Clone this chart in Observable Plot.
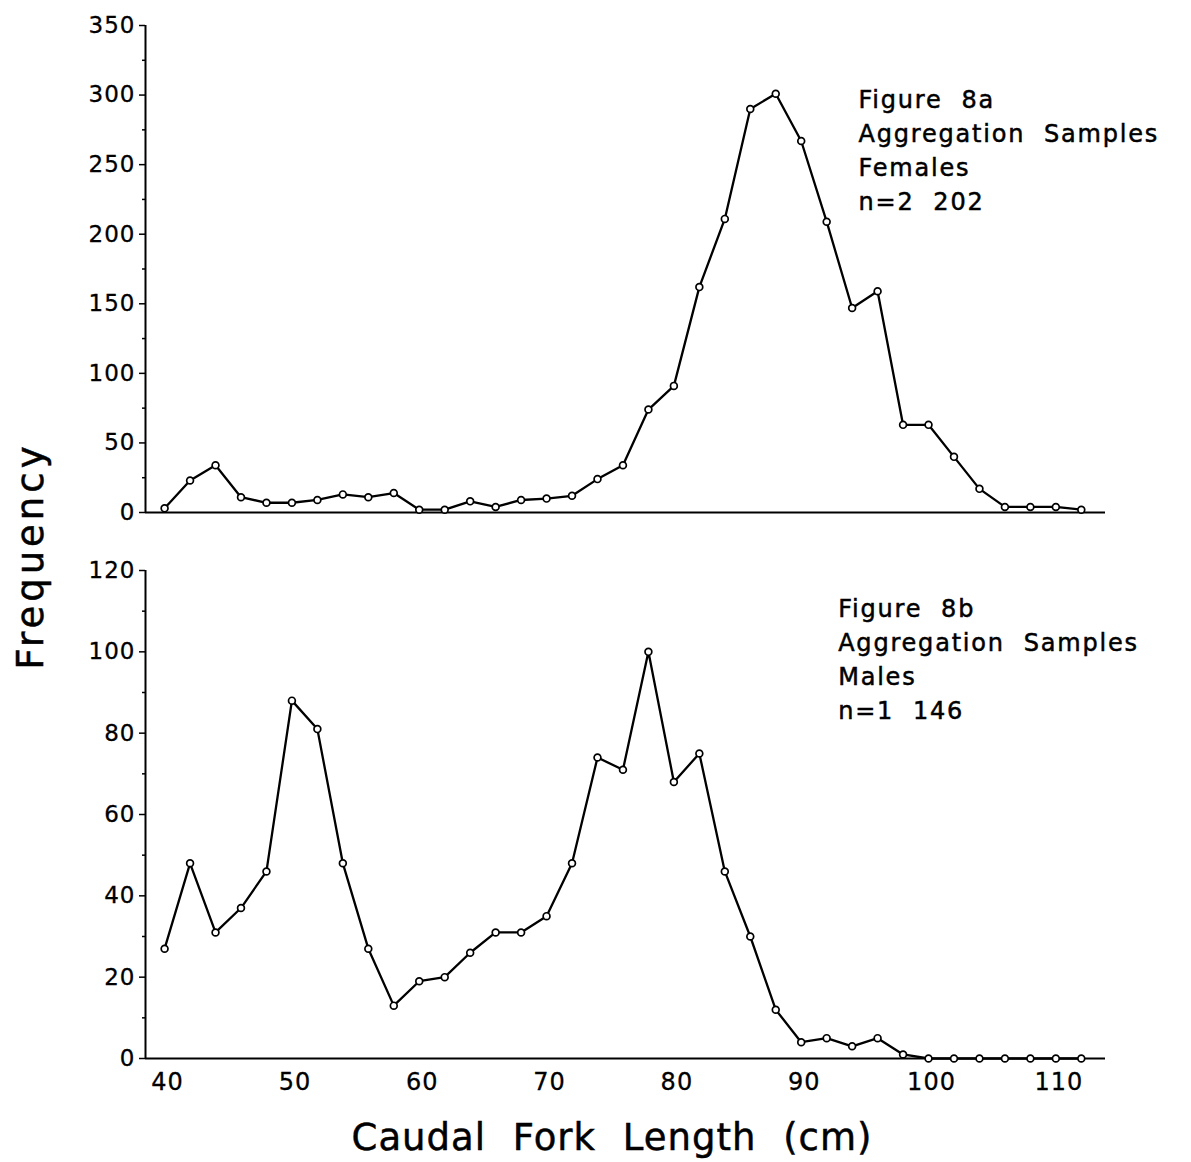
<!DOCTYPE html>
<html>
<head>
<meta charset="utf-8">
<script src="https://cdn.jsdelivr.net/npm/d3@7"></script>
<script src="https://cdn.jsdelivr.net/npm/@observablehq/plot@0.6"></script>
<style>
  body { margin: 0; background: #fff; }
  #wrap { position: relative; width: 1191px; height: 1162px; font-family: "DejaVu Sans", sans-serif; color: #000; }
  #top { position: absolute; left: 0; top: 0; }
  #bottom { position: absolute; left: 0; top: 540px; }
  #ylabel { position: absolute; left: 30px; top: 556px; transform: translate(-50%, -50%) rotate(-90deg);
            font-size: 37px; letter-spacing: 4px; white-space: nowrap; -webkit-text-stroke: 0.5px #000; }
  #xlabel { position: absolute; left: 612px; top: 1137px; transform: translate(-50%, -50%);
            font-size: 37px; letter-spacing: 1px; word-spacing: 14px; white-space: nowrap; -webkit-text-stroke: 0.5px #000; }
  g[aria-label="text"] { letter-spacing: 1.8px; }
  g[aria-label="text"] text { stroke: #000; stroke-width: 0.5px; }
  g[aria-label="y-axis tick label"], g[aria-label="x-axis tick label"] { letter-spacing: 1px; stroke: #000; stroke-width: 0.3px; }
</style>
</head>
<body>
<div id="wrap">
  <div id="top"></div>
  <div id="bottom"></div>
  <div id="ylabel">Frequency</div>
  <div id="xlabel">Caudal Fork Length (cm)</div>
</div>
<script>
// Length classes (cm), 2 cm bins
const lengths = [40, 42, 44, 46, 48, 50, 52, 54, 56, 58, 60, 62, 64, 66, 68, 70, 72, 74, 76,
                 78, 80, 82, 84, 86, 88, 90, 92, 94, 96, 98, 100, 102, 104, 106, 108, 110, 112];

// Frequencies per length class
const females = [3, 23, 34, 11, 7, 7, 9, 13, 11, 14, 2, 2, 8, 4, 9, 10, 12, 24, 34,
                 74, 91, 162, 211, 290, 301, 267, 209, 147, 159, 63, 63, 40, 17, 4, 4, 4, 2];
const males = [27, 48, 31, 37, 46, 88, 81, 48, 27, 13, 19, 20, 26, 31, 31, 35, 48, 74, 71,
               100, 68, 75, 46, 30, 12, 4, 5, 3, 5, 1, 0, 0, 0, 0, 0, 0, 0];

// Axis ticks
const xTicks = [40, 50, 60, 70, 80, 90, 100, 110];
const femaleTicks = [0, 50, 100, 150, 200, 250, 300, 350];
const femaleMinor = [25, 75, 125, 175, 225, 275, 325];
const maleTicks = [0, 20, 40, 60, 80, 100, 120];
const maleMinor = [10, 30, 50, 70, 90, 110];

// Panel annotations
const femaleNote = ["Figure  8a", "Aggregation  Samples", "Females", "n=2  202"];
const maleNote = ["Figure  8b", "Aggregation  Samples", "Males", "n=1  146"];

const xDomain = [38.5, 113.9];

function panel({values, yMax, major, minor, note, noteX, noteY, height, marginTop, marginBottom, showX}) {
  const data = lengths.map((x, i) => ({x, y: values[i]}));
  return Plot.plot({
    width: 1191,
    height,
    marginLeft: 145,
    marginRight: 86,
    marginTop,
    marginBottom,
    style: {fontFamily: "DejaVu Sans, sans-serif", color: "#000", background: "#fff", overflow: "visible"},
    x: {domain: xDomain, axis: null},
    y: {domain: [0, yMax], axis: null},
    marks: [
      Plot.axisY({ticks: minor, tickSize: 3, strokeWidth: 1.5, tickFormat: () => "", label: null}),
      Plot.axisY({ticks: major, tickSize: 6, tickPadding: 4, strokeWidth: 1.5, fontSize: 23, label: null}),
      showX ? Plot.axisX({ticks: xTicks, tickSize: 0, tickPadding: 14, fontSize: 24, dx: 3, label: null}) : null,
      Plot.ruleX([xDomain[0]], {strokeWidth: 2}),
      Plot.ruleY([0], {strokeWidth: 2}),
      Plot.line(data, {x: "x", y: "y", stroke: "#000", strokeWidth: 2.3}),
      Plot.dot(data, {x: "x", y: "y", r: 3.4, fill: "#fff", stroke: "#000", strokeWidth: 1.7}),
      Plot.text([note.join("\n")], {
        x: noteX, y: noteY, textAnchor: "start", lineAnchor: "top",
        lineHeight: 1.42, fontSize: 24, fill: "#000"
      })
    ]
  });
}

document.getElementById("top").append(panel({
  values: females, yMax: 350, major: femaleTicks, minor: femaleMinor,
  note: femaleNote, noteX: 94.5, noteY: 308,
  height: 540, marginTop: 25, marginBottom: 28, showX: false
}));

document.getElementById("bottom").append(panel({
  values: males, yMax: 120, major: maleTicks, minor: maleMinor,
  note: maleNote, noteX: 92.9, noteY: 114.6,
  height: 560, marginTop: 30, marginBottom: 42, showX: true
}));
</script>
</body>
</html>
